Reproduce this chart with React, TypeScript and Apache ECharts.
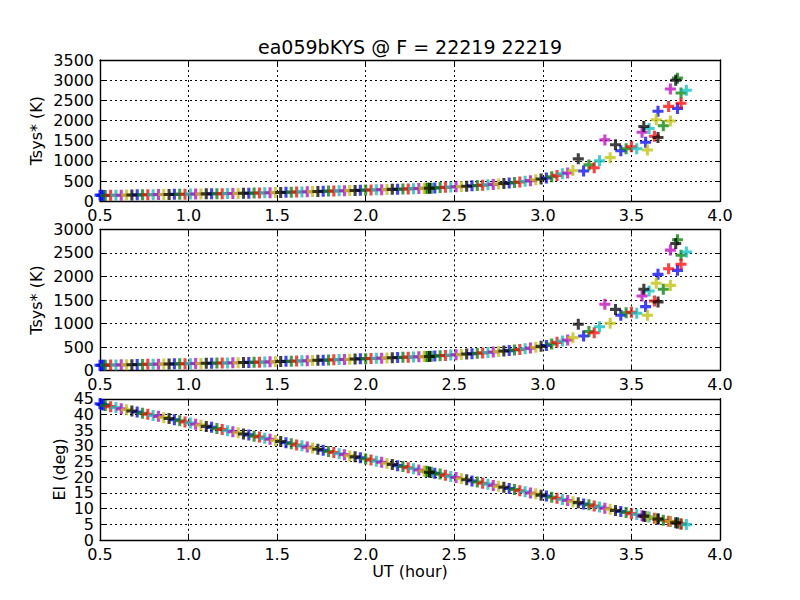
import React, { useEffect, useRef } from "react";
import * as echarts from "echarts";

const chartTitle = "ea059bKYS @ F = 22219 22219";
const panelYLabels = ["Tsys* (K)", "Tsys* (K)", "El (deg)"];
const xLabel = "UT (hour)";
const xRange = [0.5, 4.0];
const yRanges = [
  [0, 3500, 500],
  [0, 3000, 500],
  [0, 45, 5],
];

// each row: [UT hour, Tsys* top panel, Tsys* middle panel, elevation deg]
const blueScans = [
  [0.5, 150, 115, 43.4], [0.51, 145, 112, 43.2], [0.52, 140, 113, 43.0], [0.71, 157, 130, 40.8],
  [0.92, 170, 143, 38.3], [1.13, 184, 157, 35.9], [1.34, 198, 174, 33.5], [1.55, 220, 196, 31.0],
  [1.76, 245, 222, 28.6], [1.97, 270, 250, 26.2], [2.18, 297, 278, 23.7], [2.39, 330, 310, 21.3],
  [2.6, 382, 360, 18.8], [2.81, 452, 425, 16.4], [3.02, 575, 535, 14.0], [3.23, 750, 735, 11.5],
  [3.44, 1250, 1175, 9.1], [3.58, 1460, 1360, 7.5], [3.65, 2230, 2045, 6.7], [3.76, 2300, 2130, 5.4],
];
const greenScans = [
  [0.53, 143, 116, 42.9], [0.74, 159, 132, 40.4], [0.95, 172, 145, 38.0], [1.16, 186, 160, 35.5],
  [1.37, 202, 177, 33.1], [1.58, 224, 200, 30.7], [1.79, 250, 227, 28.2], [2.0, 276, 254, 25.8],
  [2.21, 302, 282, 23.4], [2.34, 318, 298, 21.9], [2.35, 320, 300, 21.8], [2.37, 322, 303, 21.6],
  [2.42, 338, 318, 21.0], [2.63, 390, 368, 18.5], [2.84, 462, 436, 16.1], [3.05, 605, 565, 13.6],
  [3.26, 900, 830, 11.2], [3.47, 1300, 1230, 8.8], [3.68, 1870, 1730, 6.3], [3.76, 3050, 2780, 5.4],
  [3.78, 2680, 2450, 5.1],
];
const redScans = [
  [0.56, 146, 118, 42.5], [0.77, 161, 133, 40.1], [0.98, 174, 146, 37.6], [1.19, 187, 161, 35.2],
  [1.4, 205, 180, 32.8], [1.61, 227, 203, 30.3], [1.82, 253, 230, 27.9], [2.03, 279, 257, 25.5],
  [2.24, 305, 286, 23.0], [2.45, 343, 322, 20.6], [2.66, 398, 376, 18.1], [2.87, 478, 450, 15.7],
  [3.08, 640, 600, 13.3], [3.29, 830, 805, 10.8], [3.5, 1350, 1240, 8.4], [3.63, 1610, 1480, 6.9],
  [3.71, 2350, 2165, 6.0], [3.78, 2430, 2260, 5.1],
];
const cyanScans = [
  [0.59, 147, 120, 42.2], [0.8, 162, 135, 39.7], [1.01, 176, 148, 37.3], [1.22, 189, 163, 34.8],
  [1.43, 208, 183, 32.4], [1.64, 231, 207, 30.0], [1.85, 256, 234, 27.5], [2.06, 282, 261, 25.1],
  [2.27, 309, 290, 22.7], [2.48, 350, 330, 20.2], [2.69, 407, 384, 17.8], [2.9, 495, 465, 15.4],
  [3.11, 680, 630, 12.9], [3.32, 1000, 930, 10.5], [3.53, 1300, 1220, 8.1], [3.6, 1800, 1690, 7.3],
  [3.81, 2750, 2520, 4.9],
];
const magentaScans = [
  [0.62, 149, 122, 41.8], [0.83, 164, 137, 39.4], [1.04, 178, 150, 36.9], [1.25, 191, 166, 34.5],
  [1.46, 211, 186, 32.1], [1.67, 235, 211, 29.6], [1.88, 259, 237, 27.2], [2.09, 286, 265, 24.8],
  [2.3, 313, 293, 22.3], [2.51, 357, 337, 19.9], [2.72, 417, 395, 17.4], [2.93, 510, 478, 15.0],
  [3.14, 700, 650, 12.6], [3.35, 1520, 1410, 10.1], [3.56, 1710, 1585, 7.7], [3.72, 2780, 2560, 5.9],
];
const yellowScans = [
  [0.65, 151, 124, 41.5], [0.86, 166, 139, 39.0], [1.07, 180, 152, 36.6], [1.28, 193, 168, 34.2],
  [1.49, 214, 189, 31.7], [1.7, 238, 215, 29.3], [1.91, 263, 241, 26.8], [2.12, 290, 270, 24.4],
  [2.33, 317, 297, 22.0], [2.54, 365, 344, 19.5], [2.75, 428, 405, 17.1], [2.96, 530, 495, 14.7],
  [3.17, 760, 700, 12.2], [3.38, 1080, 1005, 9.8], [3.59, 1270, 1175, 7.4], [3.64, 2020, 1855, 6.8],
  [3.72, 1990, 1810, 5.9],
];
const blackScans = [
  [0.68, 153, 126, 41.1], [0.89, 168, 141, 38.7], [1.1, 182, 155, 36.2], [1.31, 196, 171, 33.8],
  [1.52, 217, 193, 31.4], [1.73, 241, 219, 28.9], [1.94, 266, 245, 26.5], [2.15, 294, 274, 24.1],
  [2.36, 321, 301, 21.6], [2.57, 372, 351, 19.2], [2.78, 440, 415, 16.8], [2.99, 550, 515, 14.3],
  [3.2, 1050, 985, 11.9], [3.41, 1400, 1300, 9.4], [3.57, 1850, 1730, 7.6], [3.65, 1580, 1460, 6.7],
  [3.75, 3000, 2700, 5.5],
];

const scanSets = [
  { name: "b", color: "#0000ff", rows: blueScans },
  { name: "g", color: "#008000", rows: greenScans },
  { name: "r", color: "#ff0000", rows: redScans },
  { name: "c", color: "#00bfbf", rows: cyanScans },
  { name: "m", color: "#bf00bf", rows: magentaScans },
  { name: "y", color: "#bfbf00", rows: yellowScans },
  { name: "k", color: "#000000", rows: blackScans },
];

const FONT = "DejaVu Sans";
const PLUS = "path://M3.6,0H6.4V3.6H10V6.4H6.4V10H3.6V6.4H0V3.6H3.6Z";
const GRID_TOPS = [60, 229.4, 398.8];
const GRID_H = 141.2;
const GRID_LEFT = 100;
const GRID_W = 620;

export default function App() {
  const ref = useRef<HTMLDivElement>(null);

  useEffect(() => {
    if (!ref.current) return;
    const chart = echarts.init(ref.current, undefined, { renderer: "svg" });

    const grid = GRID_TOPS.map((top) => ({ left: GRID_LEFT, top, width: GRID_W, height: GRID_H }));

    const frameLine = { show: true, onZero: false, lineStyle: { color: "#000", width: 1.4 } };
    const tick = { show: true, inside: true, length: 5, lineStyle: { color: "#000", width: 1 } };
    const dotted = { show: true, lineStyle: { color: "#000", width: 1, type: [2, 3] as any } };
    const label = {
      color: "#000",
      fontFamily: FONT,
      fontSize: 16,
      showMinLabel: true,
      showMaxLabel: true,
      hideOverlap: false,
    };

    const xAxis: any[] = [];
    const yAxis: any[] = [];
    GRID_TOPS.forEach((_, i) => {
      xAxis.push({
        type: "value",
        gridIndex: i,
        position: "bottom",
        min: xRange[0],
        max: xRange[1],
        interval: 0.5,
        axisLine: frameLine,
        axisTick: tick,
        splitLine: dotted,
        axisLabel: { ...label, margin: 6, formatter: (v: number) => v.toFixed(1) },
      });
    });
    GRID_TOPS.forEach((_, i) => {
      xAxis.push({
        type: "value",
        gridIndex: i,
        position: "top",
        min: xRange[0],
        max: xRange[1],
        interval: 0.5,
        axisLine: frameLine,
        axisTick: tick,
        splitLine: { show: false },
        axisLabel: { show: false },
      });
    });
    // primary left axes (indices 0..2)
    GRID_TOPS.forEach((_, i) => {
      const [mn, mx, iv] = yRanges[i];
      const alt = i === 2;
      yAxis.push({
        type: "value",
        gridIndex: i,
        position: "left",
        min: mn,
        max: mx,
        interval: iv,
        axisLine: frameLine,
        axisTick: tick,
        splitLine: dotted,
        axisLabel: {
          ...label,
          margin: 6,
          formatter: (v: number) => (alt ? (v % (2 * iv) === 0 ? String(v) : "") : String(v)),
        },
      });
    });
    // right frame axes (indices 3..5)
    GRID_TOPS.forEach((_, i) => {
      const [mn, mx, iv] = yRanges[i];
      yAxis.push({
        type: "value",
        gridIndex: i,
        position: "right",
        min: mn,
        max: mx,
        interval: iv,
        axisLine: frameLine,
        axisTick: tick,
        splitLine: { show: false },
        axisLabel: { show: false },
      });
    });
    // second label axis for the elevation panel (index 6): the odd multiples of 5
    {
      const [mn, mx, iv] = yRanges[2];
      yAxis.push({
        type: "value",
        gridIndex: 2,
        position: "left",
        offset: 0,
        min: mn,
        max: mx,
        interval: iv,
        axisLine: { show: false },
        axisTick: { show: false },
        splitLine: { show: false },
        axisLabel: {
          ...label,
          margin: 6,
          formatter: (v: number) => (v % (2 * iv) !== 0 ? String(v) : ""),
        },
      });
    }

    const series: any[] = [];
    GRID_TOPS.forEach((_, g) => {
      scanSets.forEach((set) => {
        series.push({
          type: "scatter",
          name: set.name + g,
          xAxisIndex: g,
          yAxisIndex: g,
          symbol: PLUS,
          symbolSize: 11,
          itemStyle: { color: set.color, opacity: 0.75 },
          data: set.rows.map((r) => [r[0], r[g + 1]]),
        });
      });
    });

    const yLabelX = [36, 36, 59];
    const graphic: any[] = [
      {
        type: "text",
        x: 410,
        y: 47,
        style: { text: chartTitle, fontFamily: FONT, fontSize: 19, fill: "#000", align: "center", verticalAlign: "middle" },
      },
      {
        type: "text",
        x: 410,
        y: 571,
        style: { text: xLabel, fontFamily: FONT, fontSize: 16, fill: "#000", align: "center", verticalAlign: "middle" },
      },
      ...panelYLabels.map((t, i) => ({
        type: "text",
        x: yLabelX[i],
        y: GRID_TOPS[i] + GRID_H / 2,
        rotation: Math.PI / 2,
        style: { text: t, fontFamily: FONT, fontSize: 16, fill: "#000", align: "center", verticalAlign: "middle" },
      })),
    ];

    chart.setOption({
      animation: false,
      backgroundColor: "#ffffff",
      grid,
      xAxis,
      yAxis,
      series,
      graphic,
    });

    return () => chart.dispose();
  }, []);

  return (
    <div
      ref={ref}
      style={{ position: "fixed", left: 0, top: 0, width: 800, height: 600, background: "#fff" }}
    />
  );
}
